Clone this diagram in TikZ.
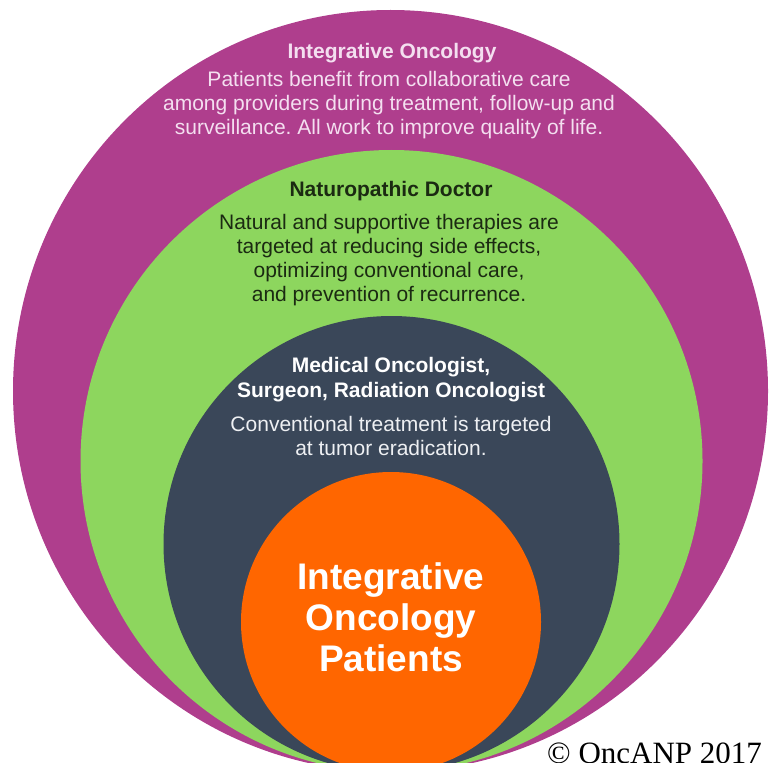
\documentclass[tikz,border=0pt]{standalone}
\usepackage{fontspec}
\setmainfont{Liberation Sans}
\newfontfamily\creditfont{Liberation Serif}
\frenchspacing

\definecolor{ringpurple}{HTML}{AF3E8D}
\definecolor{ringgreen}{HTML}{8DD65E}
\definecolor{ringnavy}{HTML}{3A4759}
\definecolor{ringorange}{HTML}{FF6600}
\definecolor{pinktext}{HTML}{F4DFF0}
\definecolor{darktext}{HTML}{1B2A12}
\definecolor{palegrey}{HTML}{EEF0F3}

\tikzset{
    heading/.style = {font=\bfseries\fontsize{21}{25}\selectfont, align=center, inner sep=0pt},
    blurb/.style   = {font=\fontsize{21}{24}\selectfont, align=center, inner sep=0pt},
    bigtitle/.style = {font=\bfseries\fontsize{37}{41}\selectfont, align=center, inner sep=0pt},
}

\begin{document}
\begin{tikzpicture}[x=1pt, y=-1pt]
    \clip (0,0) rectangle (775,762);

    % Draw the rings, all touching just below the bottom edge
    \fill[ringpurple] (390.5,391) ellipse[x radius=377.5pt, y radius=381pt];
    \fill[ringgreen]  (391.5,461) circle[radius=311pt];
    \fill[ringnavy]   (391.5,544) circle[radius=228pt];
    \fill[ringorange] (391,622)   circle[radius=150pt];

    % Outer ring
    \node[heading, pinktext] (ioHead) at (392,53) {Integrative Oncology};
    \node[blurb, pinktext] (ioText) at (389,105)
        {Patients benefit from collaborative care\\
         among providers during treatment, follow-up and\\
         surveillance. All work to improve quality of life.};

    % Second ring
    \node[heading, darktext] (ndHead) at (391,191.5) {Naturopathic Doctor};
    \node[blurb, darktext] (ndText) at (389,260)
        {Natural and supportive therapies are\\
         targeted at reducing side effects,\\
         optimizing conventional care,\\
         and prevention of recurrence.};

    % Third ring
    \node[heading, white] (moHead) at (391,380)
        {Medical Oncologist,\\ Surgeon, Radiation Oncologist};
    \node[blurb, palegrey] (moText) at (391,436)
        {Conventional treatment is targeted\\ at tumor eradication.};

    % Centre
    \node[bigtitle, white] (ptText) at (391,617)
        {Integrative\\ Oncology\\ Patients};

    % Credit line
    \node[anchor=base west, inner sep=0pt, font=\creditfont\fontsize{31}{31}\selectfont]
        (credit) at (547,763.5) {© OncANP 2017};
\end{tikzpicture}
\end{document}
